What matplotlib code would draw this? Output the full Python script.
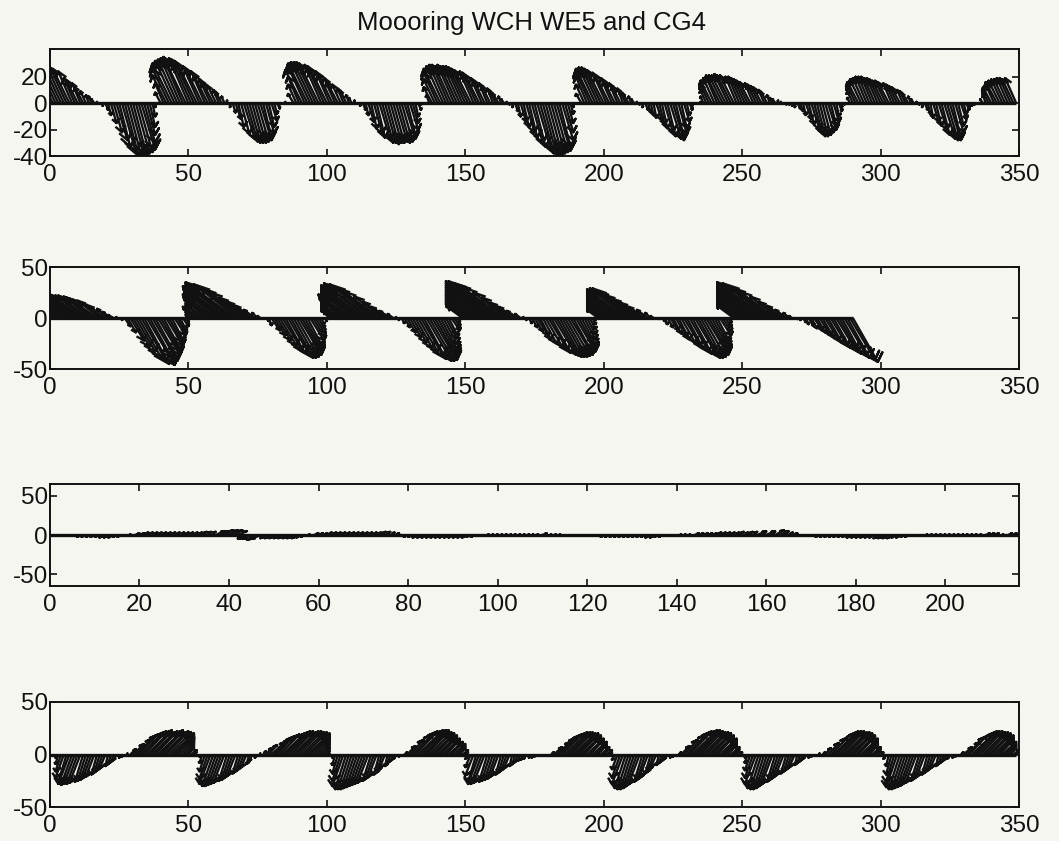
import matplotlib
matplotlib.use('Agg')
import matplotlib.pyplot as plt
from matplotlib.collections import LineCollection
import numpy as np

plt.rcParams['font.family'] = ['Liberation Sans', 'DejaVu Sans']
plt.rcParams['axes.unicode_minus'] = False

TITLE = 'Moooring WCH WE5 and CG4'

# panel 1: stick components (v north, u east) per sample
v1 = [25, 26, 27, 27, 27, 27, 27, 26, 24, 19, 17, 15, 12, 9, 6, 5, 3, 1, 0,
      -2, -5, -9, -15, -22, -28, -33, -37, -40, -40, -39, -40, -38, -37, -35, -30, -24, -18, -10, -3,
      0, 8, 15, 21, 26, 30, 32, 33, 34, 34, 35, 34, 33, 32, 30, 28, 26, 24, 21, 18, 16, 13, 10, 8, 5, 2,
      -3, -7, -12, -18, -23, -27, -29, -30, -30, -30, -29, -28, -26, -23, -18, -13, -8, -4, -1,
      0, 1, 0,
      0, 7, 14, 20, 25, 28, 30, 31, 31, 31, 30, 29, 28, 26, 24, 22, 19, 16, 14, 11, 9, 6, 4, 2, 0,
      -2, -5, -9, -14, -19, -23, -26, -28, -30, -30, -31, -30, -30, -29, -30, -29, -27, -24, -20, -15, -10, -5, -1,
      0, 0, 6, 12, 18, 23, 26, 28, 29, 29, 28, 29, 28, 28, 28, 27, 26, 25, 24, 23, 21, 19, 17, 15, 13, 11, 9, 7, 5, 3, 1,
      -1, -3, -6, -10, -14, -18, -22, -26, -30, -33, -36, -38, -39, -40, -39, -38, -37, -36, -33, -28, -22, -15, -8, -3, 0,
      0, 7, 14, 20, 24, 26, 27, 27, 26, 25, 23, 21, 19, 17, 15, 13, 11, 9, 7, 5, 3, 1,
      -1, -3, -5, -7, -9, -11, -13, -16, -19, -22, -25, -27, -28, -26, -23, -19, -14, -9, -5, -2, 0,
      0, 1, 5, 10, 14, 17, 19, 20, 21, 21, 21, 22, 21, 21, 20, 20, 19, 18, 17, 16, 15, 14, 13, 12, 10, 8, 6, 4, 3, 2, 1, 0,
      -1, -1, -2, -3, -4, -6, -9, -12, -16, -20, -23, -25, -25, -24, -22, -20, -17, -14, -10, -6, -3, -1,
      0, 4, 9, 13, 16, 18, 19, 20, 20, 20, 19, 19, 18, 17, 17, 16, 15, 14, 13, 12, 10, 9, 7, 5, 3, 1,
      -1, -3, -5, -8, -11, -14, -17, -20, -24, -27, -28, -28, -26, -22, -17, -12, -8, -5, -3, -2, -1, 0,
      0, 3, 6, 9, 12, 14, 16, 17, 18, 18, 19, 19, 18, 19]
u1 = [-6, -6, -6, -6, -6, -6, -6, -6, -5, -4, -4, -3, -3, -2, -1, -1, -1, 0, 0,
      0, 1, 1, 2, 3, 4, 4, 5, 5, 5, 5, 5, 5, 5, 5, 4, 3, 2, 1, 0,
      0, -2, -3, -5, -6, -7, -7, -7, -7, -7, -8, -7, -7, -7, -7, -6, -6, -5, -5, -4, -4, -3, -2, -2, -1, 0,
      0, 1, 2, 2, 3, 4, 4, 4, 4, 4, 4, 4, 3, 3, 2, 2, 1, 1, 0,
      0, 0, 0,
      0, -2, -3, -4, -6, -6, -7, -7, -7, -7, -7, -6, -6, -6, -5, -5, -4, -4, -3, -2, -2, -1, -1, 0, 0,
      0, 1, 1, 2, 2, 3, 3, 4, 4, 4, 4, 4, 4, 4, 4, 4, 4, 3, 3, 2, 1, 1, 0,
      0, 0, -1, -3, -4, -5, -6, -6, -6, -6, -6, -6, -6, -6, -6, -6, -6, -6, -5, -5, -5, -4, -4, -3, -3, -2, -2, -2, -1, -1, 0,
      0, 0, 1, 1, 2, 2, 3, 3, 4, 4, 5, 5, 5, 5, 5, 5, 5, 5, 4, 4, 3, 2, 1, 0, 0,
      0, -2, -3, -4, -5, -6, -6, -6, -6, -6, -5, -5, -4, -4, -3, -3, -2, -2, -2, -1, -1, 0,
      0, 0, 1, 1, 1, 1, 2, 2, 2, 3, 3, 4, 4, 3, 3, 2, 2, 1, 1, 0, 0,
      0, 0, -1, -2, -3, -4, -4, -4, -5, -5, -5, -5, -5, -5, -4, -4, -4, -4, -4, -4, -3, -3, -3, -3, -2, -2, -1, -1, -1, 0, 0, 0,
      0, 0, 0, 0, 1, 1, 1, 2, 2, 3, 3, 3, 3, 3, 3, 3, 2, 2, 1, 1, 0, 0,
      0, -1, -2, -3, -4, -4, -4, -4, -4, -4, -4, -4, -4, -4, -4, -4, -3, -3, -3, -3, -2, -2, -2, -1, -1, 0,
      0, 0, 1, 1, 1, 2, 2, 3, 3, 4, 4, 4, 3, 3, 2, 2, 1, 1, 0, 0, 0, 0,
      0, -1, -1, -2, -3, -3, -4, -4, -4, -4, -4, -4, -4, -4]

# panel 2
v2 = [21, 22, 23, 24, 24, 25, 25, 25, 24, 24, 24, 23, 23, 22, 22, 21, 20, 19, 17, 15, 12, 9, 6, 3, 1, 0,
      -2, -8, -14, -22, -28, -33, -38, -42, -45, -46, -44, -42, -39, -36, -33, -30, -27, -24, -21, -17, -14, -11, -8, -5, -2,
      3, 6, 8, 11, 12, 14, 17, 18, 20, 23, 24, 26, 28, 31, 32, 34, 35, 33, 29, 25, 20, 16, 12, 8, 5, 2,
      0, -3, -7, -12, -17, -22, -27, -31, -34, -37, -39, -39, -38, -36, -33, -30, -26, -22, -18, -14, -10, -6, -3, -1,
      5, 8, 10, 12, 14, 17, 18, 20, 23, 24, 26, 28, 30, 32, 33, 34, 33, 30, 26, 21, 16, 11, 7, 4, 1,
      -2, -5, -9, -14, -19, -24, -29, -33, -37, -40, -42, -42, -41, -38, -34, -30, -25, -20, -16, -12, -8, -4, -1,
      10, 14, 16, 18, 20, 22, 24, 26, 28, 30, 32, 34, 36, 36, 34, 30, 25, 20, 15, 11, 7, 4, 1,
      -2, -5, -9, -13, -17, -21, -25, -28, -31, -34, -36, -37, -38, -38, -38, -37, -36, -35, -33, -30, -26, -21, -16, -11, -6, -2,
      8, 10, 12, 14, 16, 18, 20, 22, 24, 26, 28, 29, 29, 27, 23, 19, 15, 11, 8, 5, 2, 0,
      -1, -3, -6, -9, -12, -15, -18, -21, -24, -27, -30, -33, -35, -37, -39, -39, -38, -36, -33, -29, -25, -21, -17, -13, -9, -5, -2,
      12, 14, 16, 18, 20, 22, 24, 26, 28, 30, 32, 34, 35, 34, 30, 26, 21, 16, 12, 8, 5, 2, 0,
      -1, -2, -4, -6, -8, -10, -12, -14, -17, -19, -22, -24, -27, -29, -31, -33, -35, -37, -39, -41, -43]
u2 = [-10, -11, -12, -12, -12, -12, -12, -12, -12, -12, -12, -12, -12, -11, -11, -10, -10, -10, -8, -8, -6, -4, -3, -2, 0, 0,
      0, 2, 3, 5, 6, 7, 8, 9, 9, 10, 9, 9, 8, 8, 7, 6, 6, 5, 4, 4, 3, 2, 2, 1, 0,
      -2, -3, -4, -6, -6, -7, -8, -9, -10, -12, -12, -13, -14, -16, -16, -17, -18, -16, -14, -12, -10, -8, -6, -4, -2, -1,
      0, 1, 1, 3, 4, 5, 6, 7, 7, 8, 8, 8, 8, 8, 7, 6, 5, 5, 4, 3, 2, 1, 1, 0,
      -2, -4, -5, -6, -7, -8, -9, -10, -12, -12, -13, -14, -15, -16, -16, -17, -16, -15, -13, -10, -8, -6, -4, -2, 0,
      0, 1, 2, 3, 4, 5, 6, 7, 8, 8, 9, 9, 9, 8, 7, 6, 5, 4, 3, 3, 2, 1, 0,
      -5, -7, -8, -9, -10, -11, -12, -13, -14, -15, -16, -17, -18, -18, -17, -15, -12, -10, -8, -6, -4, -2, 0,
      0, 1, 2, 3, 4, 4, 5, 6, 7, 7, 8, 8, 8, 8, 8, 8, 8, 7, 7, 6, 5, 4, 3, 2, 1, 0,
      -4, -5, -6, -7, -8, -9, -10, -11, -12, -13, -14, -14, -14, -14, -12, -10, -8, -6, -4, -2, -1, 0,
      0, 1, 1, 2, 3, 3, 4, 4, 5, 6, 6, 7, 7, 8, 8, 8, 8, 8, 7, 6, 5, 4, 4, 3, 2, 1, 0,
      -6, -7, -8, -9, -10, -11, -12, -13, -14, -15, -16, -17, -18, -17, -15, -13, -10, -8, -6, -4, -2, -1, 0,
      0, 0, 1, 1, 2, 2, 3, 3, 4, 4, 5, 5, 6, 6, 7, 7, 7, 8, 8, 9, 9]

# panel 3 (nearly still)
v3 = [0, 0, -1, -1, -1, -1, -1, -2, -2, -2, -2, -2, -3, -3, -3, -2, -2, -1, 1, 2,
      2, 3, 3, 3, 3, 3, 3, 3, 3, 3, 3, 3, 3, 3, 4, 4, 4, 5, 5, 6,
      6, 6, 5, -4, -5, -5, -6, -5, -4, -4, -4, -4, -4, -4, -4, -4, -3, -2, 1, 2,
      2, 2, 3, 3, 3, 3, 3, 3, 3, 3, 3, 3, 3, 3, 4, 4, 3, 2, 1, -1,
      -2, -2, -3, -3, -3, -3, -3, -3, -3, -3, -3, -3, -3, -3, -2, -2, -1, -1, 1, 1,
      1, 1, 1, 1, 1, 1, 1, 1, 1, 1, 2, 1, 1, 1, 1, 0, 0, -1, -1, -1,
      -1, -1, -1, -1, -2, -2, -2, -2, -2, -2, -2, -2, -2, -2, -3, -3, -2, -2, -1, -1,
      0, 1, 1, 1, 2, 2, 2, 2, 2, 3, 3, 3, 3, 3, 4, 3, 4, 4, 5, 4,
      5, 4, 6, 5, 4, 3, 2, 1, 0, -1, -1, -1, -2, -2, -2, -2, -2, -2, -2, -3,
      -3, -3, -3, -3, -3, -4, -4, -4, -4, -3, -3, -2, -2, -1, -1, 0, 1, 1, 1, 1,
      1, 1, 1, 1, 1, 1, 1, 1, 1, 2, 2, 2, 1, 1, 2, 2, 1, 1]
u3 = [0, 0, 0, 0, 0, 0, 0, -1, -1, -1, -1, -1, -1, -1, -1, -1, -1, 0, 0, 1,
      1, 1, 1, 1, 1, 1, 1, 1, 1, 1, 1, 1, 1, 1, 1, 1, 1, 2, 2, 2,
      2, 2, 2, -1, -2, -2, -2, -2, -1, -1, -1, -1, -1, -1, -1, -1, -1, -1, 0, 1,
      1, 1, 1, 1, 1, 1, 1, 1, 1, 1, 1, 1, 1, 1, 1, 1, 1, 1, 0, 0,
      -1, -1, -1, -1, -1, -1, -1, -1, -1, -1, -1, -1, -1, -1, -1, -1, 0, 0, 0, 0,
      0, 0, 0, 0, 0, 0, 0, 0, 0, 0, 1, 0, 0, 0, 0, 0, 0, 0, 0, 0,
      0, 0, 0, 0, -1, -1, -1, -1, -1, -1, -1, -1, -1, -1, -1, -1, -1, -1, 0, 0,
      0, 0, 0, 0, 1, 1, 1, 1, 1, 1, 1, 1, 1, 1, 1, 1, 1, 1, 2, 1,
      2, 1, 2, 2, 1, 1, 1, 0, 0, 0, 0, 0, -1, -1, -1, -1, -1, -1, -1, -1,
      -1, -1, -1, -1, -1, -1, -1, -1, -1, -1, -1, -1, -1, 0, 0, 0, 0, 0, 0, 0,
      0, 0, 0, 0, 0, 0, 0, 0, 0, 1, 1, 1, 0, 0, 1, 1, 0, 0]

# panel 4
v4 = [0, -1, -3, -9, -16, -22, -26, -28, -29, -28, -28, -27, -26, -25, -24, -22, -21, -19, -17, -15, -13, -11, -9, -7, -5, -3, -2, -1,
      1, 5, 10, 15, 19, 21, 22, 23, 22, 21, 22, 23, 22, 21, 22, 21, 20, 19, 17, 14, 11, 8, 6, 4, 2, 0,
      -2, -8, -16, -23, -28, -30, -30, -29, -28, -27, -25, -24, -22, -20, -18, -16, -14, -12, -9, -6, -3, -1,
      1, 3, 6, 9, 12, 15, 17, 19, 20, 21, 22, 22, 21, 22, 22, 21, 21, 20, 18, 16, 13, 10, 7, 5, 3, 1,
      -3, -10, -18, -25, -30, -33, -33, -33, -32, -31, -30, -29, -28, -27, -25, -23, -21, -19, -16, -13, -11, -8, -6, -4, -2, -1,
      2, 8, 14, 19, 22, 23, 23, 23, 22, 21, 20, 19, 18, 16, 15, 14, 12, 11, 10, 8, 6, 4, 2,
      -4, -12, -20, -26, -28, -28, -27, -26, -25, -24, -23, -21, -19, -17, -15, -13, -11, -9, -7, -6, -5, -4, -3, -3, -2, -1, -1, 0,
      0, 0,
      2, 7, 12, 16, 19, 21, 21, 21, 20, 20, 19, 18, 17, 15, 14, 12, 10, 9, 7, 5, 4, 2, 1,
      -5, -14, -22, -28, -32, -33, -33, -32, -30, -28, -26, -24, -21, -18, -15, -12, -10, -8, -6, -4, -3, -2, -1,
      2, 8, 14, 19, 22, 23, 23, 22, 22, 21, 21, 20, 19, 18, 17, 15, 13, 11, 9, 7, 5, 3, 2, 1,
      -3, -8, -15, -22, -28, -32, -33, -33, -32, -30, -28, -26, -24, -22, -20, -18, -16, -14, -12, -10, -8, -6, -4, -3, -2, -1,
      0, 1,
      2, 6, 11, 16, 20, 22, 22, 22, 21, 21, 20, 19, 18, 17, 15, 13, 11, 9, 7, 5, 3, 2, 1,
      -4, -11, -19, -26, -31, -33, -33, -32, -31, -30, -28, -27, -25, -23, -21, -19, -17, -15, -13, -11, -9, -7, -5, -4, -3, -2, -1,
      2, 7, 12, 17, 20, 22, 22, 22, 21, 21, 20, 19, 18, 16, 14, 12, 10, 8, 6, 4, 3]
u4 = [0, 0, 0, -1, -2, -3, -3, -4, -4, -4, -4, -4, -3, -3, -3, -3, -3, -2, -2, -2, -2, -1, -1, -1, -1, 0, 0, 0,
      0, 2, 4, 6, 7, 8, 8, 9, 8, 8, 8, 9, 8, 8, 8, 8, 8, 7, 6, 5, 4, 3, 2, 2, 1, 0,
      0, -1, -2, -3, -4, -4, -4, -4, -4, -4, -3, -3, -3, -3, -2, -2, -2, -2, -1, -1, 0, 0,
      0, 1, 2, 3, 5, 6, 6, 7, 8, 8, 8, 8, 8, 8, 8, 8, 8, 8, 7, 6, 5, 4, 3, 2, 1, 0,
      0, -1, -2, -3, -4, -4, -4, -4, -4, -4, -4, -4, -4, -4, -3, -3, -3, -2, -2, -2, -1, -1, -1, -1, 0, 0,
      1, 3, 5, 7, 8, 9, 9, 9, 8, 8, 8, 7, 7, 6, 6, 5, 5, 4, 4, 3, 2, 2, 1,
      -1, -2, -3, -3, -4, -4, -4, -3, -3, -3, -3, -3, -2, -2, -2, -2, -1, -1, -1, -1, -1, -1, 0, 0, 0, 0, 0, 0,
      0, 0,
      1, 3, 5, 6, 7, 8, 8, 8, 8, 8, 7, 7, 6, 6, 5, 5, 4, 3, 3, 2, 2, 1, 0,
      -1, -2, -3, -4, -4, -4, -4, -4, -4, -4, -3, -3, -3, -2, -2, -2, -1, -1, -1, -1, 0, 0, 0,
      1, 3, 5, 7, 8, 9, 9, 8, 8, 8, 8, 8, 7, 7, 6, 6, 5, 4, 3, 3, 2, 1, 1, 0,
      0, -1, -2, -3, -4, -4, -4, -4, -4, -4, -4, -3, -3, -3, -3, -2, -2, -2, -2, -1, -1, -1, -1, 0, 0, 0,
      0, 0,
      1, 2, 4, 6, 8, 8, 8, 8, 8, 8, 8, 7, 7, 6, 6, 5, 4, 3, 3, 2, 1, 1, 0,
      -1, -1, -2, -3, -4, -4, -4, -4, -4, -4, -4, -4, -3, -3, -3, -2, -2, -2, -2, -1, -1, -1, -1, -1, 0, 0, 0,
      1, 3, 5, 6, 8, 8, 8, 8, 8, 8, 8, 7, 7, 6, 5, 5, 4, 3, 2, 2, 1]

# (u, v, xlim, ylim, yticks, xticks, axes rect in figure fraction)
PANELS = [
    (u1, v1, (0, 350), (-40, 41), [-40, -20, 0, 20], range(0, 351, 50), [0.0472, 0.8145, 0.915, 0.1272]),
    (u2, v2, (0, 350), (-50, 50), [-50, 0, 50], range(0, 351, 50), [0.0472, 0.5612, 0.915, 0.1213]),
    (u3, v3, (0, 216.5), (-65, 65), [-50, 0, 50], range(0, 201, 20), [0.0472, 0.3032, 0.915, 0.1213]),
    (u4, v4, (0, 350), (-50, 50), [-50, 0, 50], range(0, 351, 50), [0.0472, 0.0404, 0.915, 0.1249]),
]

BG = '#f6f6f1'
INK = '#111111'


def feather(ax, u, v):
    """MATLAB-style feather: one arrow per sample, drawn from (i, 0)."""
    u = np.asarray(u, float)
    v = np.asarray(v, float)
    x = np.arange(len(v), dtype=float)
    z = u + 1j * v
    shape = np.array([0, 1, 0.8 + 0.08j, 1, 0.8 - 0.08j])
    pts = x[:, None] + shape[None, :] * z[:, None]
    segs = [np.column_stack([p.real, p.imag]) for p in pts]
    ax.add_collection(LineCollection(segs, colors=INK, linewidths=1.7))
    ax.plot([x[0], x[-1]], [0, 0], color=INK, lw=2.4, solid_capstyle='butt')


fig = plt.figure(figsize=(10.59, 8.41), dpi=100, facecolor=BG)

for u, v, xl, yl, yt, xt, rect in PANELS:
    ax = fig.add_axes(rect, facecolor=BG)
    feather(ax, u, v)
    ax.set_xlim(*xl)
    ax.set_ylim(*yl)
    ax.set_xticks(list(xt))
    ax.set_yticks(yt)
    ax.tick_params(direction='in', length=5, width=1.2, color=INK, top=True, right=True,
                   labelsize=17.5, labelcolor=INK)
    ax.tick_params(axis='x', pad=6)
    ax.tick_params(axis='y', pad=1.5)
    for sp in ax.spines.values():
        sp.set_linewidth(1.4)
        sp.set_color(INK)

fig.text(0.502, 0.964, TITLE, ha='center', va='baseline', fontsize=18.5, color=INK)

fig.savefig('out.png', dpi=100, facecolor=BG)
